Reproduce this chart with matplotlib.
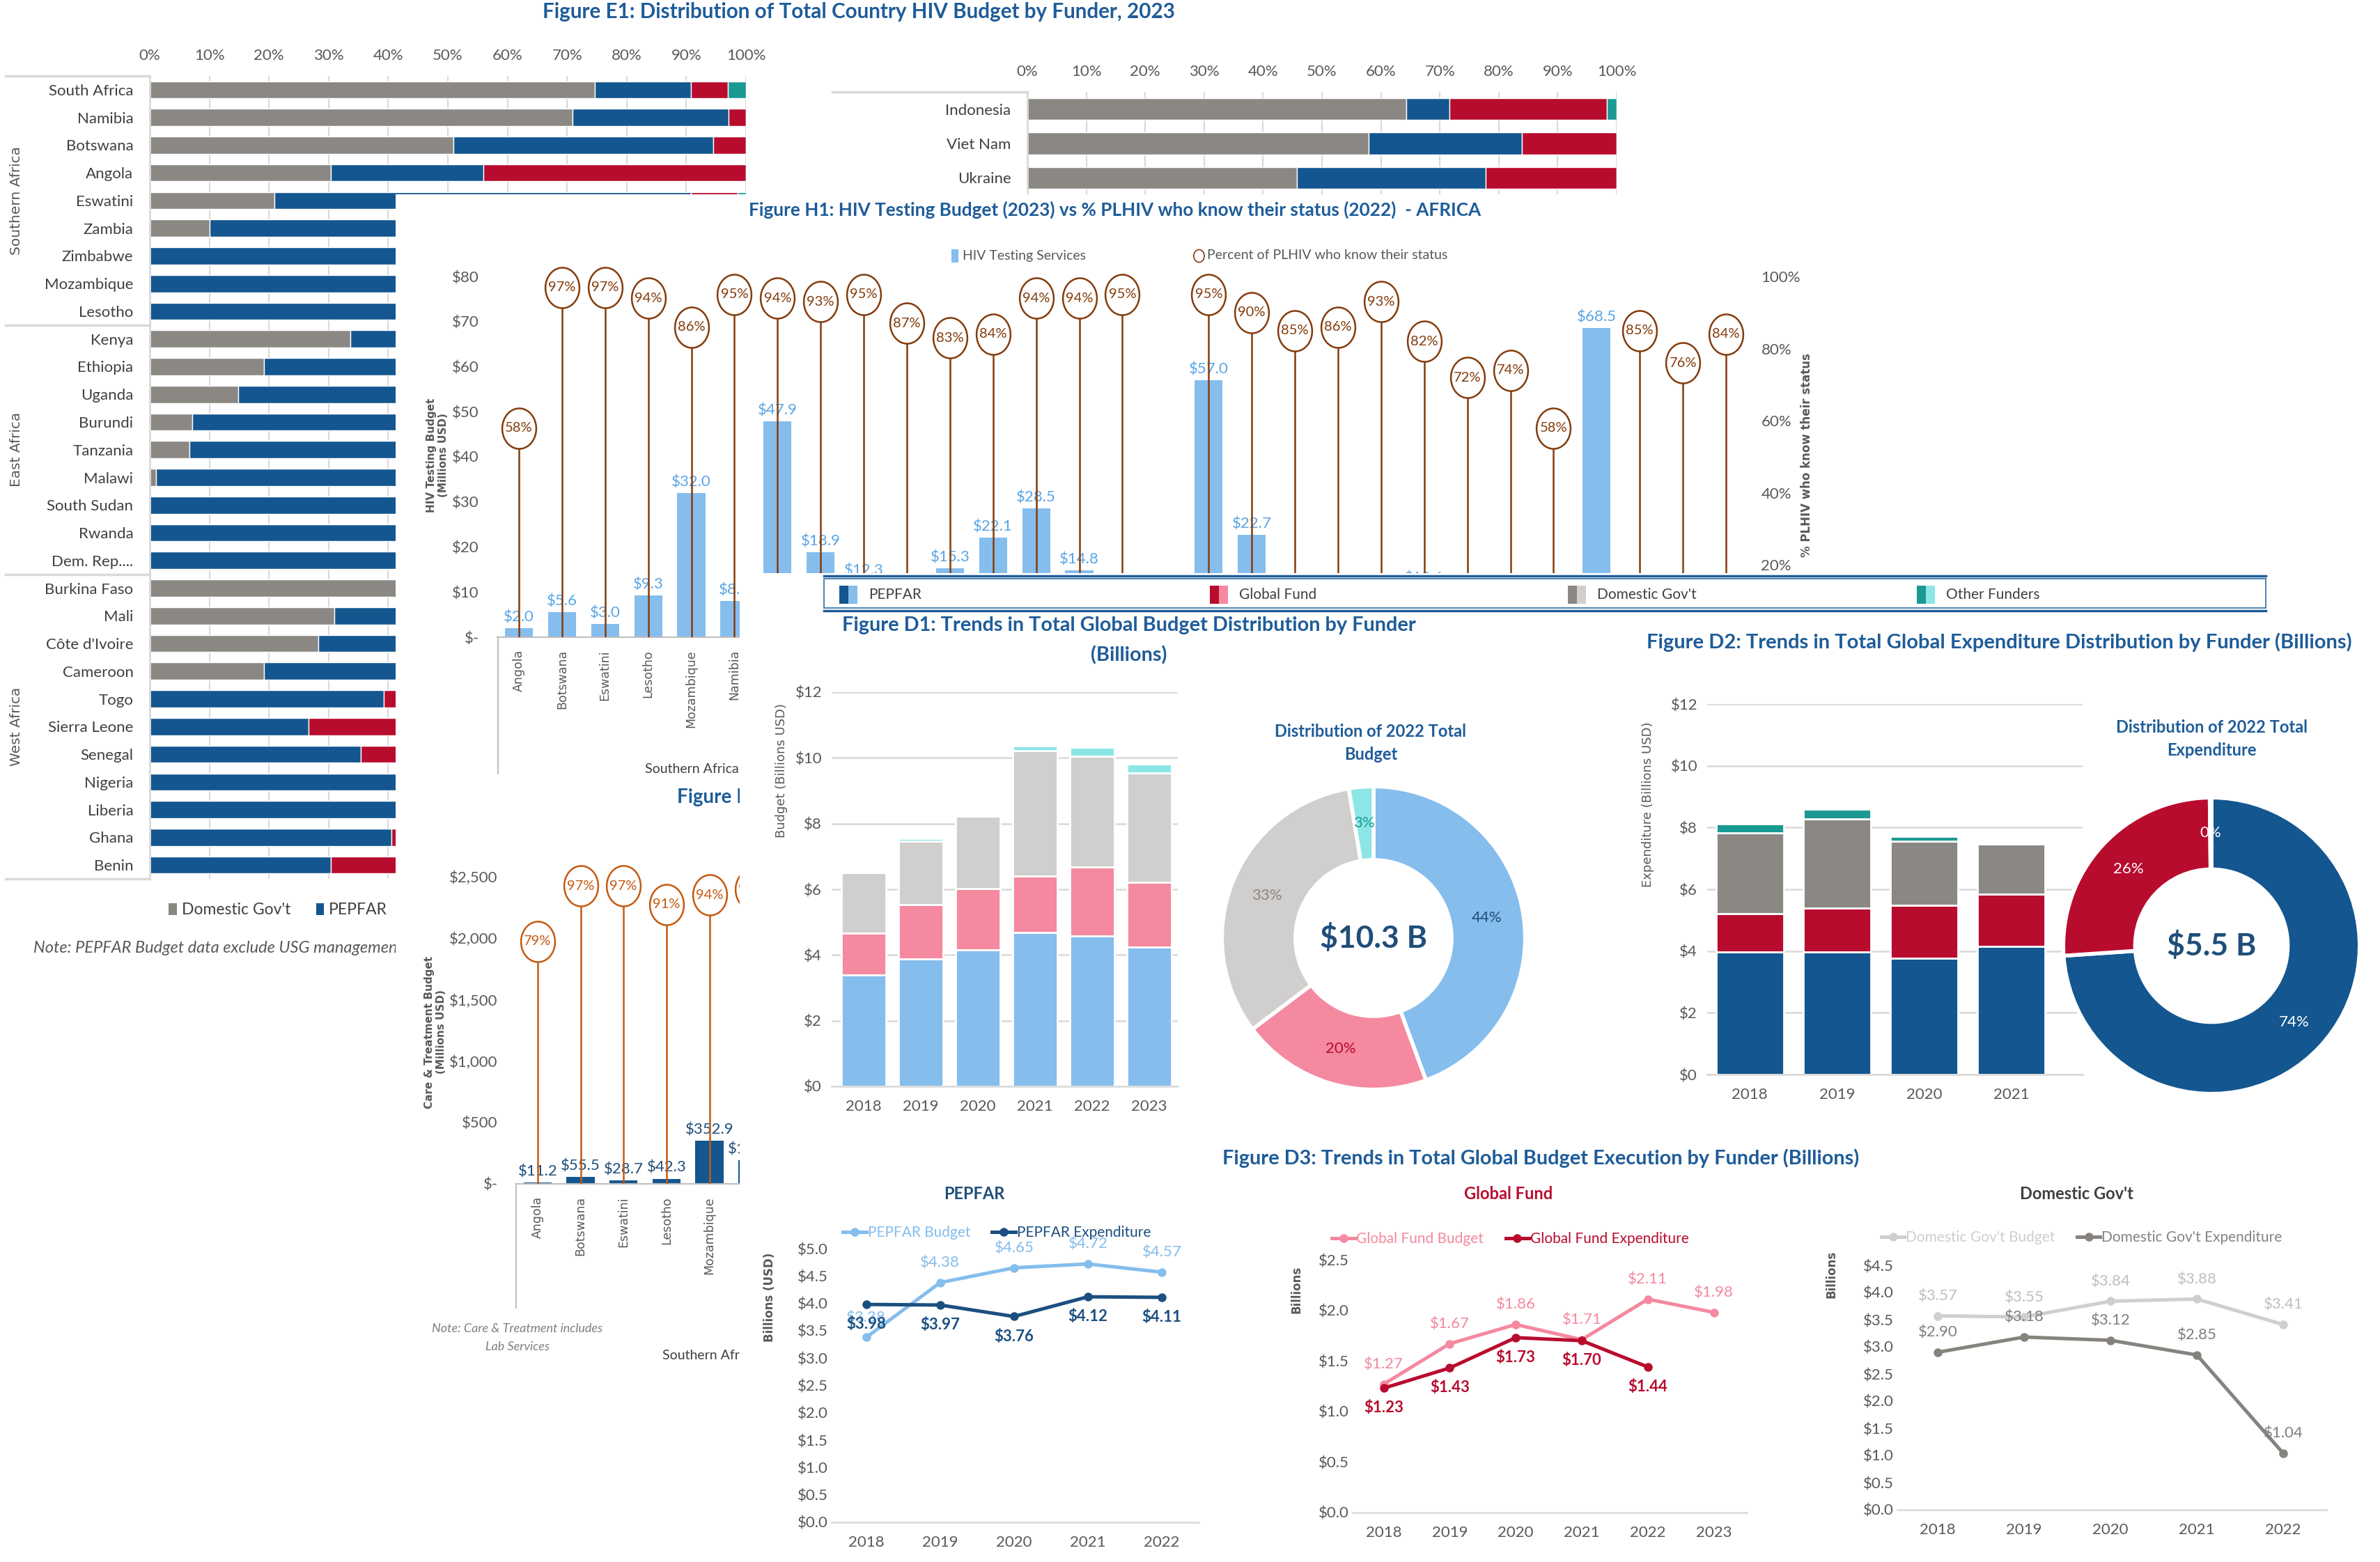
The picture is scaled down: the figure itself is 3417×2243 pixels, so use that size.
import numpy as np
import matplotlib
matplotlib.use('Agg')
import matplotlib.pyplot as plt
from matplotlib.patches import Rectangle, Patch
from matplotlib.lines import Line2D
from matplotlib.path import Path

W, H = 3417, 2243
NARROW = ['Liberation Sans Narrow', 'Lato', 'DejaVu Sans']
WIDE = ['DejaVu Sans']
plt.rcParams['font.family'] = NARROW

# colours
BLUE_D, BLUE_L = '#14568F', '#85BDED'
RED_D, RED_L = '#B80C2E', '#F4899F'
GRAY_D, GRAY_L = '#8B8884', '#D1CFCD'
TEAL_D, TEAL_L = '#1B9A94', '#8DE6E6'
DARK = [GRAY_D, BLUE_D, RED_D, TEAL_D]
TITLE = '#1E5C99'
TXT = '#595959'
BROWN = '#843C0C'
ORANGE = '#C55A11'

# ---------------- data ----------------
funders = ['Domestic Gov\'t', 'PEPFAR', 'Global Fund', 'Other Funders']

af_countries = ['South Africa', 'Namibia', 'Botswana', 'Angola', 'Eswatini', 'Zambia', 'Zimbabwe',
                'Mozambique', 'Lesotho', 'Kenya', 'Ethiopia', 'Uganda', 'Burundi', 'Tanzania', 'Malawi',
                'South Sudan', 'Rwanda', 'Dem. Rep....', 'Burkina Faso', 'Mali', "Côte d'Ivoire", 'Cameroon',
                'Togo', 'Sierra Leone', 'Senegal', 'Nigeria', 'Liberia', 'Ghana', 'Benin']
af_dom = [74.7, 70.9, 50.9, 30.4, 20.9, 10.1, 0, 0, 0, 33.7, 19.2, 14.8, 7.1, 6.7, 1.0,
          0, 0, 0, 62.0, 31.0, 28.3, 19.2, 0, 0, 0, 0, 0, 0, 0]
af_pep = [16.1, 26.2, 43.6, 25.6, 69.9, 71.0, 79.0, 88.0, 84.0, 57.0, 70.0, 72.0, 62.0, 80.0, 72.0,
          68.0, 70.0, 68.0, 10.0, 36.0, 55.0, 56.0, 39.2, 26.6, 35.4, 86.0, 62.0, 40.5, 30.4]
af_gf = [6.2, 2.9, 5.5, 44.0, 7.8, 17.0, 19.0, 11.0, 15.0, 8.8, 10.8, 13.2, 30.9, 13.3, 27.0,
         32.0, 30.0, 32.0, 28.0, 33.0, 16.7, 24.8, 60.8, 73.4, 64.6, 14.0, 38.0, 59.5, 69.6]
af_oth = [3.0, 0, 0, 0, 1.4, 1.9, 2.0, 1.0, 1.0, 0.5, 0, 0, 0, 0, 0,
          0, 0, 0, 0, 0, 0, 0, 0, 0, 0, 0, 0, 0, 0]
af_groups = [('Southern Africa', 0, 9), ('East Africa', 9, 18), ('West Africa', 18, 29)]

as_countries = ['Indonesia', 'Viet Nam', 'Ukraine']
as_dom = [64.3, 57.9, 45.7]
as_pep = [7.3, 26.0, 32.1]
as_gf = [26.7, 16.1, 22.2]
as_oth = [1.7, 0, 0]

h1_countries = ['Angola', 'Botswana', 'Eswatini', 'Lesotho', 'Mozambique', 'Namibia', 'South Africa',
                'Zambia', 'Zimbabwe', 'Burundi', 'Dem. Rep. Congo', 'Ethiopia', 'Kenya', 'Malawi', 'Rwanda',
                'South Sudan', 'Tanzania', 'Uganda', 'Benin', 'Burkina Faso', 'Cameroon', "Côte d'Ivoire",
                'Ghana', 'Liberia', 'Mali', 'Nigeria', 'Senegal', 'Sierra Leone', 'Togo']
h1_budget = [2.0, 5.6, 3.0, 9.3, 32.0, 8.0, 47.9, 18.9, 12.3, 6.5, 15.3, 22.1, 28.5, 14.8, 7.2,
             4.1, 57.0, 22.7, 3.4, 2.1, 5.8, 10.6, 6.9, 2.7, 1.9, 68.5, 2.4, 3.1, 2.6]
h1_pct = [58, 97, 97, 94, 86, 95, 94, 93, 95, 87, 83, 84, 94, 94, 95,
          None, 95, 90, 85, 86, 93, 82, 72, 74, 58, None, 85, 76, 84]

h2_countries = ['Angola', 'Botswana', 'Eswatini', 'Lesotho', 'Mozambique', 'Namibia']
h2_budget = [11.2, 55.5, 28.7, 42.3, 352.9, 190.0]
h2_pct = [79, 97, 97, 91, 94, 96]

d1_years = ['2018', '2019', '2020', '2021', '2022', '2023']
d1_pepfar = [3.39, 3.87, 4.15, 4.69, 4.58, 4.23]
d1_gf = [1.27, 1.67, 1.87, 1.72, 2.10, 1.98]
d1_dom = [1.85, 1.93, 2.20, 3.80, 3.37, 3.33]
d1_other = [0.00, 0.07, 0.00, 0.16, 0.27, 0.27]

d2_years = ['2018', '2019', '2020', '2021']
d2_pepfar = [3.96, 3.96, 3.76, 4.14]
d2_gf = [1.25, 1.43, 1.73, 1.70]
d2_dom = [2.62, 2.88, 2.07, 1.63]
d2_other = [0.29, 0.33, 0.16, 0.00]

exp22_vals = [4.11, 1.44, 0.01]   # PEPFAR, Global Fund, Other

pep_years = ['2018', '2019', '2020', '2021', '2022']
pep_budget = [3.38, 4.38, 4.65, 4.72, 4.57]
pep_exp = [3.98, 3.97, 3.76, 4.12, 4.11]
gf_years = ['2018', '2019', '2020', '2021', '2022', '2023']
gf_budget = [1.27, 1.67, 1.86, 1.71, 2.11, 1.98]
gf_exp = [1.23, 1.43, 1.73, 1.70, 1.44]
dom_years = ['2018', '2019', '2020', '2021', '2022']
dom_budget = [3.57, 3.55, 3.84, 3.88, 3.41]
dom_exp = [2.90, 3.18, 3.12, 2.85, 1.04]

# ---------------- helpers ----------------
fig = plt.figure(figsize=(W / 100, H / 100), dpi=100)
fig.patch.set_facecolor('white')


def box(x0, y0, x1, y1):
    return [x0 / W, 1 - y1 / H, (x1 - x0) / W, (y1 - y0) / H]


def ftext(x, y, s, **kw):
    return fig.text(x / W, 1 - y / H, s, **kw)


def fline(xs, ys, **kw):
    fig.add_artist(Line2D([x / W for x in xs], [1 - y / H for y in ys], transform=fig.transFigure, **kw))


def frect(x0, y0, x1, y1, **kw):
    r = Rectangle((x0 / W, 1 - y1 / H), (x1 - x0) / W, (y1 - y0) / H, transform=fig.transFigure, **kw)
    fig.add_artist(r)
    return r


tt = np.linspace(0, 2 * np.pi, 73)
ELL = Path(np.column_stack([np.cos(tt) * 0.84, np.sin(tt)]))


def hbar_panel(ax, names, cols, height):
    y = np.arange(len(names))
    left = np.zeros(len(names))
    for vals, c in zip(cols, DARK):
        ax.barh(y, vals, left=left, height=height, color=c, edgecolor='white', linewidth=1, zorder=2)
        left += np.array(vals)
    ax.set_xlim(0, 100)
    ax.set_ylim(len(names) - 0.5, -0.5)
    ax.set_yticks(y, names)
    ax.set_xticks(np.arange(0, 101, 10), [f'{v}%' for v in range(0, 101, 10)])
    ax.xaxis.tick_top()
    ax.tick_params(length=0, labelsize=16)
    ax.tick_params(axis='x', pad=14, colors=TXT)
    ax.tick_params(axis='y', pad=17, colors='#404040')
    ax.grid(axis='x', color='#D9D9D9', lw=1.5)
    ax.set_axisbelow(True)
    for s in ['top', 'right', 'bottom']:
        ax.spines[s].set_visible(False)
    ax.spines['left'].set_color('#D9D9D9')
    ax.spines['left'].set_linewidth(2)


# ---------------- Figure E1 ----------------
ftext(1233, 17, 'Figure E1: Distribution of Total Country HIV Budget by Funder, 2023', ha='center', va='center',
      fontsize=21.3, fontweight='bold', color=TITLE)

ax_af = fig.add_axes(box(215, 109, 1071, 1262))
ax_af.set_zorder(1)
hbar_panel(ax_af, af_countries, [af_dom, af_pep, af_gf, af_oth], 0.62)
ax_af.legend([Patch(facecolor=c) for c in DARK], funders, loc='center left', bbox_to_anchor=(0.008, -0.039),
             ncol=4, frameon=False, fontsize=16.5, handlelength=0.5, handleheight=0.8, handletextpad=0.3,
             columnspacing=1.6, labelcolor='#404040')
row = (1262 - 109) / len(af_countries)
for name, a, b in af_groups:
    fline([8, 215], [109 + a * row, 109 + a * row], color='#D9D9D9', lw=2.5)
    ftext(24, 109 + (a + b) / 2 * row, name, rotation=90, ha='center', va='center', fontsize=14.5,
          family=WIDE, color=TXT)
fline([8, 215], [1262, 1262], color='#D9D9D9', lw=2.5)
ftext(48, 1362, 'Note: PEPFAR Budget data exclude USG management costs', ha='left', va='center', fontsize=17,
      style='italic', color=TXT, zorder=1.5)

ax_as = fig.add_axes(box(1475, 132, 2321, 280))
ax_as.set_zorder(1)
hbar_panel(ax_as, as_countries, [as_dom, as_pep, as_gf, as_oth], 0.63)
fline([1195, 1475], [132, 132], color='#D9D9D9', lw=2.5)

# ---------------- cover for the H panels ----------------
frect(568, 279, W, H, facecolor='white', edgecolor='none', zorder=2)

# ---------------- Figure H1 ----------------
ftext(1601, 301, 'Figure H1: HIV Testing Budget (2023) vs % PLHIV who know their status (2022)  - AFRICA',
      ha='center', va='center', fontsize=18.8, fontweight='bold', color=TITLE, zorder=3)
frect(1366, 358, 1376, 377, facecolor=BLUE_L, edgecolor='none', zorder=3)
ftext(1382, 367, 'HIV Testing Services', ha='left', va='center', fontsize=14, color=TXT, zorder=3)
fig.add_artist(Line2D([1721 / W], [1 - 367 / H], marker=ELL, markersize=13, mfc='white', mec=BROWN, mew=1.2,
                      linestyle='none', transform=fig.transFigure, zorder=3))
ftext(1733, 367, 'Percent of PLHIV who know their status', ha='left', va='center', fontsize=14, color=TXT,
      zorder=3)

ax_h1 = fig.add_axes(box(714, 397, 2509, 915))
ax_h1.set_zorder(3)
ax_h1.patch.set_visible(False)
x1 = np.arange(len(h1_countries))
ax_h1.bar(x1, h1_budget, width=0.65, color=BLUE_L)
for xi, v in zip(x1, h1_budget):
    ax_h1.annotate(f'${v:.1f}', (xi, v), xytext=(0, 4), textcoords='offset points', ha='center', va='bottom',
                   fontsize=16, color='#5AA5E6')
ax_h1.set_xlim(-0.5, len(h1_countries) - 0.5)
ax_h1.set_ylim(0, 80)
ax_h1.set_yticks(range(0, 81, 10), ['$-'] + [f'${v}' for v in range(10, 81, 10)])
ax_h1.set_xticks(x1, h1_countries, rotation=90, family=WIDE, fontsize=12.5)
ax_h1.tick_params(length=0, colors=TXT)
ax_h1.tick_params(axis='y', labelsize=16, pad=19)
ax_h1.tick_params(axis='x', pad=13)
for s in ['top', 'right', 'left']:
    ax_h1.spines[s].set_visible(False)
ax_h1.spines['bottom'].set_color('#BFBFBF')
ax_h1.spines['bottom'].set_linewidth(1.5)

ax_h1b = ax_h1.twinx()
ax_h1b.set_zorder(3.5)
ax_h1b.patch.set_visible(False)
ax_h1b.set_ylim(0, 100)
ax_h1b.set_yticks(range(0, 101, 20), [f'{v}%' for v in range(0, 101, 20)])
ax_h1b.tick_params(length=0, colors=TXT, labelsize=16, pad=14)
for s in ax_h1b.spines.values():
    s.set_visible(False)
for xi, p in zip(x1, h1_pct):
    if p is None:
        continue
    ax_h1b.vlines(xi, 0, p, color=BROWN, lw=1.8, zorder=3)
    ax_h1b.scatter([xi], [p], s=1750, marker=ELL, facecolor='white', edgecolor=BROWN, linewidth=1.8,
                   zorder=4, clip_on=False)
    ax_h1b.text(xi, p, f'{p}%', ha='center', va='center', fontsize=14.5, color=BROWN, zorder=5)
ftext(628, 654, 'HIV Testing Budget\n(Millions USD)', rotation=90, ha='center', va='center', fontsize=11,
      fontweight='bold', family=WIDE, color=TXT, zorder=3)
ftext(2594, 654, '% PLHIV who know their status', rotation=90, ha='center', va='center', fontsize=12,
      fontweight='bold', family=WIDE, color=TXT, zorder=3)
fline([715, 715], [915, 1111], color='#BFBFBF', lw=1.5, zorder=3)
ftext(993, 1105, 'Southern Africa', ha='center', va='center', fontsize=14, color='#404040', zorder=3)

# ---------------- Figure H2 (care & treatment) ----------------
ftext(972, 1144, 'Figure H2: Care & Treatment Budget (2023) vs % PLHIV on treatment (2022)  - AFRICA',
      ha='left', va='center', fontsize=20, fontweight='bold', color=TITLE, zorder=3)
ax_h2 = fig.add_axes(box(741, 1259, 1296, 1700))
ax_h2.set_zorder(3)
ax_h2.patch.set_visible(False)
x2 = np.arange(len(h2_countries))
ax_h2.bar(x2, h2_budget, width=0.65, color=BLUE_D)
for xi, v, p in zip(x2, h2_budget, h2_pct):
    ax_h2.annotate(f'${v:.1f}', (xi, v), xytext=(0, 4), textcoords='offset points', ha='center', va='bottom',
                   fontsize=16, color='#1F4E79', zorder=2)
    ax_h2.vlines(xi, 0, p * 25, color=ORANGE, lw=1.8, zorder=3)
    ax_h2.scatter([xi], [p * 25], s=1750, marker=ELL, facecolor='white', edgecolor=ORANGE, linewidth=1.8,
                  zorder=4, clip_on=False)
    ax_h2.text(xi, p * 25, f'{p}%', ha='center', va='center', fontsize=14.5, color=ORANGE, zorder=5)
ax_h2.set_xlim(-0.5, 8.5)
ax_h2.set_ylim(0, 2500)
ax_h2.set_yticks(range(0, 2501, 500), ['$-', '$500', '$1,000', '$1,500', '$2,000', '$2,500'])
ax_h2.set_xticks(x2, h2_countries, rotation=90, family=WIDE, fontsize=12.5)
ax_h2.tick_params(length=0, colors=TXT)
ax_h2.tick_params(axis='y', labelsize=16, pad=19)
ax_h2.tick_params(axis='x', pad=13)
for s in ['top', 'right', 'left']:
    ax_h2.spines[s].set_visible(False)
ax_h2.spines['bottom'].set_color('#BFBFBF')
ax_h2.spines['bottom'].set_linewidth(1.5)
ftext(625, 1482, 'Care & Treatment Budget\n(Millions USD)', rotation=90, ha='center', va='center', fontsize=11,
      fontweight='bold', family=WIDE, color=TXT, zorder=3)
fline([741, 741], [1700, 1878], color='#BFBFBF', lw=1.5, zorder=3)
ftext(1018, 1946, 'Southern Africa', ha='center', va='center', fontsize=14, color='#404040', zorder=3)
ftext(743, 1921, 'Note: Care & Treatment includes\nLab Services', ha='center', va='center', fontsize=13,
      style='italic', color='#7F7F7F', zorder=3, linespacing=1.7)

# ---------------- cover for the D panels ----------------
frect(1062, 823, W, H, facecolor='white', edgecolor='none', zorder=4)

# funder legend box
frect(1183, 831, 3253, 873, facecolor='white', edgecolor='#2E6DA4', lw=1.2, zorder=6)
fline([1183, 3253], [827, 827], color='#1F5C99', lw=2.5, zorder=6)
fline([1183, 3253], [877, 877], color='#1F5C99', lw=2.5, zorder=6)
for name, cd, cl, xx in [('PEPFAR', BLUE_D, BLUE_L, 1205), ('Global Fund', RED_D, RED_L, 1737),
                         ("Domestic Gov't", GRAY_D, GRAY_L, 2251), ('Other Funders', TEAL_D, TEAL_L, 2752)]:
    frect(xx, 841, xx + 13, 867, facecolor=cd, edgecolor='none', zorder=6)
    frect(xx + 13, 841, xx + 26, 867, facecolor=cl, edgecolor='none', zorder=6)
    ftext(xx + 42, 854, name, ha='left', va='center', fontsize=15, color='#404040', zorder=6)


def stack_panel(ax, years, series, colors, width):
    x = np.arange(len(years))
    bottom = np.zeros(len(years))
    for vals, c in zip(series, colors):
        ax.bar(x, vals, bottom=bottom, width=width, color=c, edgecolor='white', linewidth=2, zorder=2)
        bottom += np.array(vals)
    ax.set_ylim(0, 12)
    ax.set_yticks(range(0, 13, 2), [f'${v}' for v in range(0, 13, 2)])
    ax.set_xticks(x, years)
    ax.tick_params(length=0, colors=TXT, labelsize=16)
    ax.tick_params(axis='x', pad=14)
    ax.tick_params(axis='y', pad=10)
    ax.grid(axis='y', color='#D9D9D9', lw=1.8)
    ax.set_axisbelow(True)
    for s in ['top', 'right', 'left']:
        ax.spines[s].set_visible(False)
    ax.spines['bottom'].set_color('#D9D9D9')
    ax.spines['bottom'].set_linewidth(1.8)


def donut(cx, cy, r, vals, colors, label_colors, center):
    ax = fig.add_axes(box(cx - r, cy - r, cx + r, cy + r))
    ax.set_zorder(5)
    wedges, texts, autotexts = ax.pie(vals, colors=colors, startangle=90, counterclock=False, radius=1,
                                      autopct='%.0f%%', pctdistance=0.76,
                                      wedgeprops=dict(width=0.485, edgecolor='white', linewidth=4))
    for t, c in zip(autotexts, label_colors):
        t.set_color(c)
        t.set_fontsize(16)
    ax.set_xlim(-1.02, 1.02)
    ax.set_ylim(-1.02, 1.02)
    ax.text(0, 0, center, ha='center', va='center', fontsize=32, fontweight='bold', color='#1F4E79')


# ---------------- Figure D1 ----------------
ftext(1621, 898, 'Figure D1: Trends in Total Global Budget Distribution by Funder', ha='center', va='center',
      fontsize=20.8, fontweight='bold', color=TITLE, zorder=6)
ftext(1621, 941, '(Billions)', ha='center', va='center', fontsize=20.8, fontweight='bold', color=TITLE, zorder=6)
ax_d1 = fig.add_axes(box(1194, 994, 1691, 1560))
ax_d1.set_zorder(5)
stack_panel(ax_d1, d1_years, [d1_pepfar, d1_gf, d1_dom, d1_other], [BLUE_L, RED_L, GRAY_L, TEAL_L], 0.78)
ax_d1.set_xlim(-0.56, 5.5)
ftext(1122, 1107, 'Budget (Billions USD)', rotation=90, ha='center', va='center', fontsize=13, family=WIDE,
      color=TXT, zorder=6)
bud22 = [d1_pepfar[4], d1_gf[4], d1_dom[4], d1_other[4]]
ftext(1968, 1067, 'Distribution of 2022 Total\nBudget', ha='center', va='center', fontsize=17,
      fontweight='bold', color=TITLE, zorder=6, linespacing=1.5)
donut(1972, 1347, 222, bud22, [BLUE_L, RED_L, GRAY_L, TEAL_L], ['#1F4E79', RED_D, GRAY_D, TEAL_D],
      f'${sum(bud22):.1f} B')

# ---------------- Figure D2 ----------------
ftext(2870, 922, 'Figure D2: Trends in Total Global Expenditure Distribution by Funder (Billions)',
      ha='center', va='center', fontsize=21, fontweight='bold', color=TITLE, zorder=6)
ax_d2 = fig.add_axes(box(2451, 1011, 2990, 1543))
ax_d2.set_zorder(5)
stack_panel(ax_d2, d2_years, [d2_pepfar, d2_gf, d2_dom, d2_other], [BLUE_D, RED_D, GRAY_D, TEAL_D], 0.78)
ax_d2.set_xlim(-0.49, 3.82)
ftext(2366, 1155, 'Expenditure (Billions USD)', rotation=90, ha='center', va='center', fontsize=13,
      family=WIDE, color=TXT, zorder=6)
ftext(3175, 1061, 'Distribution of 2022 Total\nExpenditure', ha='center', va='center', fontsize=17,
      fontweight='bold', color=TITLE, zorder=6, linespacing=1.5)
donut(3175, 1358, 217, exp22_vals, [BLUE_D, RED_D, TEAL_D], ['white', 'white', 'white'], '$5.5 B')

# ---------------- Figure D3 ----------------
ftext(2212, 1663, 'Figure D3: Trends in Total Global Budget Execution by Funder (Billions)', ha='center',
      va='center', fontsize=20.8, fontweight='bold', color=TITLE, zorder=6)


def line_panel(bx, years, budget, exp, ymax, c_bud, c_exp, names, title, tcolor, tx, leg_x, leg_y, exp_below,
               lab_bud, lab_exp, exp_bold):
    ax = fig.add_axes(box(*bx))
    ax.set_zorder(5)
    xb = np.arange(len(budget))
    xe = np.arange(len(exp))
    ax.plot(xb, budget, color=c_bud, lw=3.6, marker='o', ms=8, label=names[0], zorder=3)
    ax.plot(xe, exp, color=c_exp, lw=3.6, marker='o', ms=8, label=names[1], zorder=3)
    for xi, v in zip(xb, budget):
        ax.annotate(f'${v:.2f}', (xi, v), xytext=(0, 13), textcoords='offset points', ha='center',
                    va='bottom', fontsize=16, color=lab_bud, zorder=4)
    for xi, v in zip(xe, exp):
        off = -13 if exp_below else 13
        ax.annotate(f'${v:.2f}', (xi, v), xytext=(0, off), textcoords='offset points', ha='center',
                    va='top' if exp_below else 'bottom', fontsize=16, color=lab_exp,
                    fontweight='bold' if exp_bold else 'normal', zorder=4)
    ax.set_xlim(-0.47, len(years) - 0.5)
    ax.set_ylim(0, ymax)
    ticks = np.arange(0, ymax + 0.01, 0.5)
    ax.set_yticks(ticks, [f'${v:.1f}' for v in ticks])
    ax.set_xticks(np.arange(len(years)), years)
    ax.tick_params(length=0, colors=TXT, labelsize=16)
    ax.tick_params(axis='x', pad=14)
    for s in ['top', 'right', 'left']:
        ax.spines[s].set_visible(False)
    ax.spines['bottom'].set_color('#D9D9D9')
    ax.spines['bottom'].set_linewidth(1.8)
    ax.legend(loc='lower center', bbox_to_anchor=(leg_x, leg_y), ncol=2, frameon=False, fontsize=15,
              handlelength=1.6, handletextpad=0.1, columnspacing=1.5, labelcolor='linecolor',
              borderaxespad=0.2)
    ftext(tx, 1715, title, ha='center', va='center', fontsize=17, fontweight='bold', color=tcolor, zorder=6)
    return ax


line_panel((1194, 1793, 1721, 2186), pep_years, pep_budget, pep_exp, 5.0, BLUE_L, '#1B4F80',
           ['PEPFAR Budget', 'PEPFAR Expenditure'], 'PEPFAR', '#1F4E79', 1399, 0.45, 1.0, True,
           '#85BDED', '#1B4F80', True)
line_panel((1942, 1809, 2508, 2172), gf_years, gf_budget, gf_exp, 2.5, RED_L, RED_D,
           ['Global Fund Budget', 'Global Fund Expenditure'], 'Global Fund', RED_D, 2166, 0.40, 1.02, True,
           RED_L, RED_D, True)
line_panel((2724, 1817, 3340, 2168), dom_years, dom_budget, dom_exp, 4.5, GRAY_L, '#86837F',
           ["Domestic Gov't Budget", "Domestic Gov't Expenditure"], "Domestic Gov't", '#404040', 2981, 0.43,
           1.05, False, '#BFBFBF', '#7F7F7F', False)

# axis labels of D3
ftext(1105, 1863, 'Billions (USD)', rotation=90, ha='center', va='center', fontsize=12, fontweight='bold',
      family=WIDE, color=TXT, zorder=6)
ftext(1861, 1852, 'Billions', rotation=90, ha='center', va='center', fontsize=12, fontweight='bold',
      family=WIDE, color=TXT, zorder=6)
ftext(2630, 1830, 'Billions', rotation=90, ha='center', va='center', fontsize=12, fontweight='bold',
      family=WIDE, color=TXT, zorder=6)

fig.savefig('out.png', dpi=100, facecolor='white')
